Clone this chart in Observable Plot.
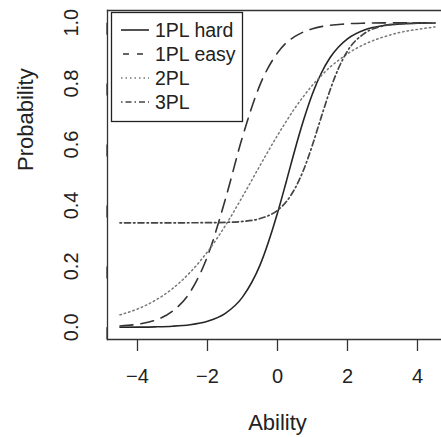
<!DOCTYPE html>
<html><head><meta charset="utf-8">
<script src="https://cdn.jsdelivr.net/npm/d3@7"></script>
<script src="https://cdn.jsdelivr.net/npm/@observablehq/plot@0.6"></script>
<style>
body{margin:0;background:#fff;}
#chart{position:relative;width:441px;height:437px;}
#chart svg.legend{position:absolute;left:0;top:0;pointer-events:none;}
</style></head><body><div id="chart"></div>
<script>
// Ability grid and read-off probabilities
const ability   = [-4.5,-4,-3.5,-3,-2.5,-2,-1.5,-1,-0.5,0,0.25,0.5,0.75,1,1.25,1.5,1.75,2,2.5,3,3.5,4,4.5];
const onePLhard = [0.0003,0.0007,0.0016,0.0036,0.0085,0.020,0.045,0.099,0.204,0.375,0.478,0.584,0.682,0.767,0.834,0.885,0.921,0.947,0.977,0.990,0.996,0.998,0.999];
const onePLeasy = [0.0043,0.0101,0.0232,0.0527,0.115,0.233,0.416,0.625,0.796,0.901,0.934,0.955,0.970,0.980,0.987,0.9915,0.994,0.9964,0.9985,0.9994,0.9997,0.9999,1.0];
const twoPL     = [0.041,0.060,0.088,0.127,0.180,0.248,0.332,0.429,0.531,0.630,0.676,0.720,0.759,0.795,0.826,0.854,0.877,0.898,0.930,0.952,0.968,0.978,0.986];
const threePL   = [0.343,0.343,0.343,0.343,0.3432,0.3435,0.3445,0.3476,0.357,0.384,0.412,0.456,0.518,0.599,0.690,0.778,0.852,0.907,0.966,0.989,0.996,0.999,0.999];
const seriesNames = ["1PL hard","1PL easy","2PL","3PL"];
const xTicks = [-4,-2,0,2,4];
const yTicks = [0,0.2,0.4,0.6,0.8,1.0];

const seriesValues = [onePLhard, onePLeasy, twoPL, threePL];
const lineStyle = {
  "1PL hard": {stroke:"#262626", strokeWidth:1.6, dash:null},
  "1PL easy": {stroke:"#333", strokeWidth:1.6, dash:"13,8"},
  "2PL":      {stroke:"#777", strokeWidth:1.5, dash:"1.5,3"},
  "3PL":      {stroke:"#444", strokeWidth:1.7, dash:"1.5,3,6,3"}
};
const rows = seriesNames.map((name, k) => seriesValues[k].map((p, i) => ({series: name, ability: ability[i], p})));

const font = "'Liberation Sans', Arial, Helvetica, sans-serif";
const plot = Plot.plot({
  width: 441, height: 437,
  marginLeft: 107, marginRight: 0, marginTop: 10, marginBottom: 98,
  x: {domain: [-4.857, 4.686]},
  y: {domain: [-0.04, 1.04]},
  style: {fontFamily: font, background: "#fff", color: "#222"},
  marks: [
    Plot.axisX({ticks: xTicks, tickSize: 12, tickPadding: 17, fontSize: 20, label: null, strokeWidth: 1.3, stroke: "#333"}),
    Plot.axisY({ticks: yTicks, tickSize: 12, tickPadding: 24, fontSize: 20, label: null, rotate: -90,
                textAnchor: "middle", lineAnchor: "middle", tickFormat: d3.format(".1f"), strokeWidth: 1.3, stroke: "#333"}),
    Plot.frame({anchor: "top", stroke: "#333", strokeWidth: 1.3}),
    Plot.frame({anchor: "left", stroke: "#333", strokeWidth: 1.3}),
    Plot.frame({anchor: "bottom", stroke: "#333", strokeWidth: 1.3}),
    ...rows.map((data, k) => {
      const s = lineStyle[seriesNames[k]];
      return Plot.line(data, {x: "ability", y: "p", curve: "monotone-x",
        stroke: s.stroke, strokeWidth: s.strokeWidth, strokeDasharray: s.dash});
    }),
    Plot.text(["Ability"], {text: d => d, frameAnchor: "bottom", dy: 83, dx: 3, fontSize: 22, lineAnchor: "middle", fill: "#222"}),
    Plot.text(["Probability"], {text: d => d, frameAnchor: "left", dx: -82, dy: -4, rotate: -90, fontSize: 22, lineAnchor: "middle", fill: "#222"})
  ]
});
const chart = document.getElementById("chart");
chart.appendChild(plot);

// Legend overlay
const lg = d3.select(chart).append("svg").attr("class", "legend").attr("width", 441).attr("height", 437);
lg.append("rect").attr("x", 111.5).attr("y", 12.5).attr("width", 131).attr("height", 109)
  .attr("fill", "#fff").attr("stroke", "#222").attr("stroke-width", 1.3);
seriesNames.forEach((name, i) => {
  const s = lineStyle[name];
  const y = 30 + i * 24;
  lg.append("line").attr("x1", 121).attr("x2", 149).attr("y1", y).attr("y2", y)
    .attr("stroke", s.stroke).attr("stroke-width", s.strokeWidth)
    .attr("stroke-dasharray", s.dash ? (name === "1PL easy" ? "6,8" : s.dash) : null)
    .attr("stroke-dashoffset", name === "1PL easy" ? -2 : 0);
  lg.append("text").attr("x", 155).attr("y", y).attr("dy", "0.35em")
    .attr("font-family", font).attr("font-size", 19.5).attr("fill", "#222").text(name);
});
</script></body></html>
